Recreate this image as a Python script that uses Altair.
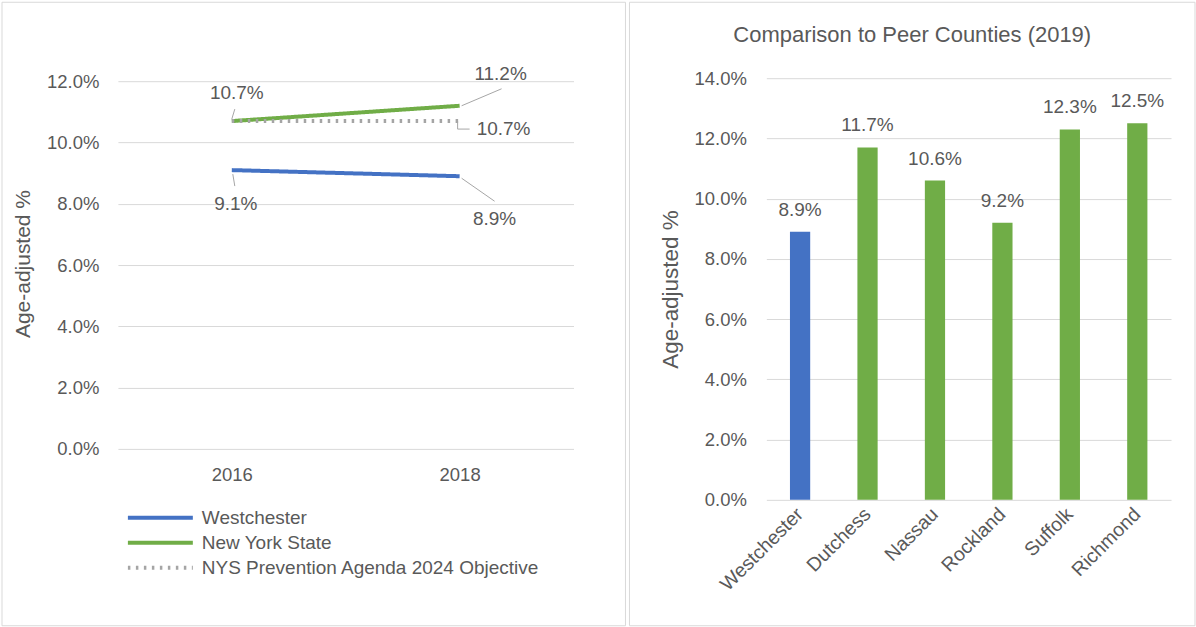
import altair as alt
import pandas as pd

# ---------------- data ----------------
years = ["2016", "2018"]
westchester = [9.1, 8.9]
new_york_state = [10.7, 11.2]
objective_2024 = [10.7, 10.7]
series_names = ["Westchester", "New York State", "NYS Prevention Agenda 2024 Objective"]

counties = ["Westchester", "Dutchess", "Nassau", "Rockland", "Suffolk", "Richmond"]
county_values = [8.9, 11.7, 10.6, 9.2, 12.3, 12.5]

y_ticks_left = [0, 2, 4, 6, 8, 10, 12]
y_ticks_right = [0, 2, 4, 6, 8, 10, 12, 14]

# ---------------- styles ----------------
BLUE = "#4472C4"
GREEN = "#70AD47"
GRAY = "#A5A5A5"
LEADER = "#A6A6A6"
TEXT = "#595959"
GRID = "#D9D9D9"
FONT = "Liberation Sans"

rows = []
for name, vals in zip(series_names, [westchester, new_york_state, objective_2024]):
    for yr, v in zip(years, vals):
        rows.append({"series": name, "year": yr, "value": v})
line_df = pd.DataFrame(rows)
bar_df = pd.DataFrame({"county": counties, "value": county_values})

W1, H1 = 456, 371
W2, H2 = 405, 422

pct_expr = "format(datum.value, '.1f') + '%'"

x_left = alt.X(
    "year:O",
    scale=alt.Scale(type="point", padding=0.5),
    axis=alt.Axis(title=None, labelAngle=0, labelPadding=17, labelFontSize=18.5,
                  ticks=False, domain=False, grid=False),
)
y_left = alt.Y(
    "value:Q",
    scale=alt.Scale(domain=[0, 12.1], nice=False, zero=True),
    axis=alt.Axis(values=y_ticks_left, labelExpr=pct_expr, title="Age-adjusted %",
                  titleFontSize=21, titlePadding=13, labelPadding=19, labelFontSize=18.5,
                  ticks=False, domain=False, grid=True),
)

legend_cfg = dict(
    title=None, orient="none", legendX=8, legendY=430, direction="vertical",
    symbolType="stroke", symbolSize=4225, symbolStrokeWidth=4,
    labelFontSize=19, labelFont=FONT, labelColor=TEXT, labelOffset=7,
    rowPadding=5, clipHeight=20, padding=0, labelLimit=500,
)

base_line = alt.Chart(line_df).transform_calculate(label=pct_expr)

lines = base_line.mark_line(strokeCap="butt").encode(
    x=x_left,
    y=y_left,
    color=alt.Color("series:N", scale=alt.Scale(domain=series_names, range=[BLUE, GREEN, GRAY]),
                    legend=alt.Legend(**legend_cfg)),
    strokeDash=alt.StrokeDash("series:N",
                              scale=alt.Scale(domain=series_names,
                                              range=[[1, 0], [1, 0], [2.5, 5.5]]),
                              legend=alt.Legend(**legend_cfg)),
    strokeWidth=alt.StrokeWidth("series:N", scale=alt.Scale(domain=series_names, range=[4, 4, 3]),
                                legend=None),
)


def point_label(series, year, dx, dy, segments):
    base = base_line.transform_filter(
        (alt.datum.series == series) & (alt.datum.year == year)
    )
    layers = []
    for (a, b, c, d) in segments:
        layers.append(
            base.mark_rule(color=LEADER, strokeWidth=1, xOffset=a, yOffset=b,
                           x2Offset=c, y2Offset=d).encode(
                x=alt.X("year:O"), y=alt.Y("value:Q"), x2="year:O", y2="value:Q")
        )
    layers.append(
        base.mark_text(dx=dx, dy=dy, fontSize=19, font=FONT, color=TEXT,
                       baseline="middle", align="center").encode(
            x=alt.X("year:O"), y=alt.Y("value:Q"), text="label:N")
    )
    return layers


label_layers = []
label_layers += point_label("New York State", "2016", 5, -28, [(3, -12, 0, -2)])
label_layers += point_label("Westchester", "2016", 4, 34, [(1, 4, 3, 16)])
label_layers += point_label("New York State", "2018", 41, -32, [(2, 0, 42, -17)])
label_layers += point_label("NYS Prevention Agenda 2024 Objective", "2018", 44, 8,
                            [(-2, 0, -2, 8), (-2, 8, 10, 8)])
label_layers += point_label("Westchester", "2018", 35, 43, [(2, 2, 35, 25)])

frame_left = alt.Chart(alt.Data(values=[{"f": 1}])).mark_rect(
    fill="#ffffff", fillOpacity=0, stroke=GRID, strokeWidth=1
).encode(x=alt.value(-116), x2=alt.value(508), y=alt.value(-76), y2=alt.value(548))

left = alt.layer(frame_left, lines, *label_layers).properties(width=W1, height=H1)

# ---------------- right chart ----------------
x_right = alt.X(
    "county:N",
    sort=counties,
    scale=alt.Scale(paddingInner=0.7, paddingOuter=0.35),
    axis=alt.Axis(title=None, labelAngle=-45, labelAlign="right", labelBaseline="middle",
                  labelPadding=11, labelFontSize=19.5, ticks=False, domain=False, grid=False),
)
y_right = alt.Y(
    "value:Q",
    scale=alt.Scale(domain=[0, 14], nice=False, zero=True),
    axis=alt.Axis(values=y_ticks_right, labelExpr=pct_expr, title="Age-adjusted %",
                  titleFontSize=22.5, titlePadding=11, labelPadding=20, labelFontSize=18.5,
                  ticks=False, domain=False, grid=True),
)

bars = alt.Chart(bar_df).mark_bar().encode(
    x=x_right,
    y=y_right,
    color=alt.condition(alt.datum.county == "Westchester", alt.value(BLUE), alt.value(GREEN)),
)
bar_labels = alt.Chart(bar_df).transform_calculate(label=pct_expr).mark_text(
    dy=-22, fontSize=19, font=FONT, color=TEXT, baseline="middle"
).encode(x=alt.X("county:N", sort=counties), y="value:Q", text="label:N")

frame_right = alt.Chart(alt.Data(values=[{"f": 1}])).mark_rect(
    fill="#ffffff", fillOpacity=0, stroke=GRID, strokeWidth=1
).encode(x=alt.value(-137), x2=alt.value(429), y=alt.value(-76), y2=alt.value(548))

right = alt.layer(frame_right, bars, bar_labels).properties(
    width=W2, height=H2,
    title=alt.TitleParams("Comparison to Peer Counties (2019)", fontSize=22, font=FONT,
                          color=TEXT, fontWeight="normal", anchor="middle", frame="bounds",
                          offset=-45),
)

chart = alt.hconcat(left, right, spacing=2).properties(
    padding={"left": 1, "top": 1, "right": 0, "bottom": 0},
    background="#ffffff",
).configure_view(strokeWidth=0).configure_axis(
    labelFont=FONT, titleFont=FONT, labelColor=TEXT, titleColor=TEXT,
    gridColor=GRID, gridWidth=1, titleFontWeight="normal",
)

chart.save("out.html", embed_options={"renderer": "svg", "actions": False})
